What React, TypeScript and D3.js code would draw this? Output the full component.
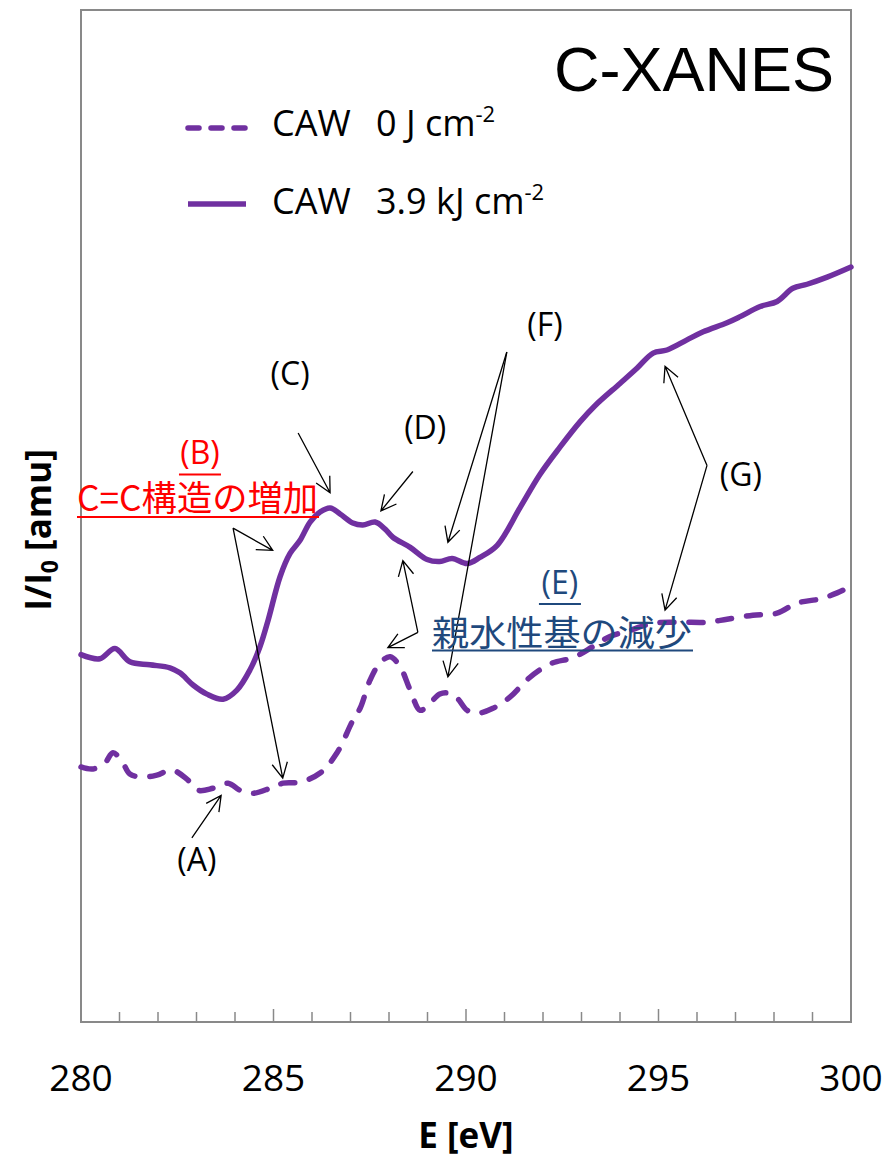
import React from "react";
import * as d3 from "d3";

// Photon energy [eV] and normalised absorption I/I0 [a.u.] for both samples
const energyIrradiated = [
  280.0, 280.49, 280.88, 281.27, 281.79, 282.31, 282.57, 282.91, 283.27, 283.69,
  284.05, 284.39, 284.65, 284.86, 285.17, 285.43, 285.69, 285.95, 286.21, 286.47,
  286.73, 287.06, 287.32, 287.64, 287.9, 288.1, 288.55, 288.99, 289.32, 289.64,
  290.03, 290.36, 290.81, 291.4, 291.92, 292.44, 292.96, 293.35, 294.0, 294.44,
  294.86, 295.22, 295.74, 296.16, 296.78, 297.12, 297.64, 298.08, 298.49, 298.86,
  299.38, 300.0,
];
const intensityIrradiated = [
  36.3, 35.9, 36.9, 35.6, 35.3, 35.0, 34.5, 33.3, 32.4, 31.9,
  32.8, 34.8, 37.1, 39.7, 44.0, 46.3, 47.6, 49.4, 50.4, 50.8,
  50.2, 49.3, 49.1, 49.4, 48.7, 47.9, 46.9, 45.7, 45.5, 45.8,
  45.3, 45.9, 47.1, 50.8, 54.1, 56.8, 59.3, 60.9, 63.1, 64.6,
  66.1, 66.4, 67.4, 68.2, 69.1, 69.7, 70.7, 71.2, 72.5, 72.9,
  73.6, 74.6,
];

const energyUntreated = [
  280.0, 280.31, 280.62, 280.83, 281.06, 281.27, 281.61, 281.97, 282.36, 282.75,
  283.04, 283.43, 283.82, 284.13, 284.47, 284.91, 285.25, 285.69, 286.21, 286.65,
  287.06, 287.25, 287.51, 287.77, 288.03, 288.29, 288.55, 288.81, 289.06, 289.32,
  289.53, 289.77, 290.03, 290.29, 290.7, 291.14, 291.58, 291.92, 292.26, 292.78,
  293.3, 293.74, 294.18, 294.86, 295.56, 296.26, 296.78, 297.45, 298.08, 298.6,
  299.19, 299.64, 299.92,
];
const intensityUntreated = [
  25.2, 25.0, 25.6, 26.6, 25.8, 24.5, 24.2, 24.4, 24.9, 24.0,
  22.9, 23.1, 23.6, 22.9, 22.6, 23.1, 23.6, 23.7, 24.6, 26.6,
  29.8, 31.0, 33.8, 35.5, 36.1, 35.1, 32.8, 30.8, 31.5, 32.4,
  32.5, 32.0, 30.8, 30.5, 31.0, 32.1, 33.8, 34.8, 35.5, 36.0,
  37.1, 38.1, 38.6, 39.4, 39.5, 39.5, 39.8, 40.2, 40.4, 41.4,
  41.8, 42.4, 42.9,
];

const energyTicks = [280, 285, 290, 295, 300];
const energyMinorTicks = d3.range(281, 300);

// Annotation arrows in data units: [E from, I from, E to, I to]
const arrowA = [[282.88, 18.2, 283.64, 22.4]];
const arrowB = [
  [283.95, 48.8, 284.98, 46.6],
  [283.95, 48.8, 285.24, 24.1],
];
const arrowC = [[285.64, 58.2, 286.47, 52.3]];
const arrowD = [[288.62, 54.4, 287.79, 50.5]];
const arrowE = [
  [288.75, 38.5, 288.36, 45.6],
  [288.75, 38.5, 287.97, 37.0],
];
const arrowF = [
  [291.06, 66.2, 289.53, 47.4],
  [291.06, 66.2, 289.53, 34.1],
];
const arrowG = [
  [296.26, 55.0, 295.17, 64.8],
  [296.26, 55.0, 295.17, 40.7],
];

// Plain peak labels: [text, E, I]
const peakLabels: [string, number, number][] = [
  ["(A)", 283.01, 14.9],
  ["(C)", 285.43, 62.9],
  ["(D)", 288.94, 57.6],
  ["(F)", 292.05, 67.8],
  ["(G)", 297.14, 53.0],
];

const PURPLE = "#7030A0";
const FRAME = "#898989";
const RED = "#FF0000";
const NAVY = "#1F497D";

const left = 81;
const right = 851;
const top = 10;
const bottom = 1022;

const x = d3.scaleLinear().domain([280, 300]).range([left, right]);
const y = d3.scaleLinear().domain([0, 100]).range([bottom, top]);

const line = d3
  .line<[number, number]>()
  .x((d) => x(d[0]))
  .y((d) => y(d[1]))
  .curve(d3.curveCatmullRom.alpha(0.5));

function zip(a: number[], b: number[]): [number, number][] {
  return a.map((v, i) => [v, b[i]]);
}

function arrowPath(seg: number[]) {
  const x1 = x(seg[0]);
  const y1 = y(seg[1]);
  const x2 = x(seg[2]);
  const y2 = y(seg[3]);
  const ang = Math.atan2(y1 - y2, x1 - x2);
  const len = 17;
  const spread = (27 * Math.PI) / 180;
  const bx1 = x2 + len * Math.cos(ang + spread);
  const by1 = y2 + len * Math.sin(ang + spread);
  const bx2 = x2 + len * Math.cos(ang - spread);
  const by2 = y2 + len * Math.sin(ang - spread);
  return `M${x1},${y1}L${x2},${y2}M${bx1},${by1}L${x2},${y2}L${bx2},${by2}`;
}

const LATIN = "'Open Sans', 'Noto Sans', sans-serif";
const CJK = "'Noto Sans CJK JP', 'Noto Sans', sans-serif";

export default function App() {
  const allArrows = [...arrowA, ...arrowB, ...arrowC, ...arrowD, ...arrowE, ...arrowF, ...arrowG];
  return (
    <svg
      width={887}
      height={1157}
      viewBox="0 0 887 1157"
      style={{ position: "absolute", left: 0, top: 0, display: "block", background: "#fff" }}
    >
      <rect x={0} y={0} width={887} height={1157} fill="#fff" />
      {/* plot frame */}
      <rect
        x={left}
        y={top}
        width={right - left}
        height={bottom - top}
        fill="none"
        stroke={FRAME}
        strokeWidth={2}
      />
      {/* inward ticks on the energy axis */}
      {energyMinorTicks.map((t) => (
        <line
          key={"m" + t}
          x1={x(t)}
          x2={x(t)}
          y1={bottom}
          y2={bottom - (t % 5 === 0 ? 13 : 10)}
          stroke={FRAME}
          strokeWidth={1.5}
        />
      ))}
      {energyTicks.map((t) => (
        <text
          key={"t" + t}
          x={x(t)}
          y={1091}
          textAnchor="middle"
          fontFamily={LATIN}
          fontSize={37}
          fill="#000"
        >
          {t}
        </text>
      ))}
      <text
        x={x(290)}
        y={1148}
        textAnchor="middle"
        fontFamily={LATIN}
        fontWeight="bold"
        fontSize={35}
        fill="#000"
      >
        E [eV]
      </text>
      <text
        transform={`translate(51,${(top + bottom) / 2 + 14}) rotate(-90)`}
        textAnchor="middle"
        fontFamily={LATIN}
        fontWeight="bold"
        fontSize={35}
        fill="#000"
      >
        I/I
        <tspan fontSize={23} dy={7}>
          0
        </tspan>
        <tspan dy={-7}> [amu]</tspan>
      </text>

      {/* spectra */}
      <path
        d={line(zip(energyUntreated, intensityUntreated)) || ""}
        fill="none"
        stroke={PURPLE}
        strokeWidth={5.5}
        strokeDasharray="14 15"
        strokeLinecap="round"
        strokeLinejoin="round"
      />
      <path
        d={line(zip(energyIrradiated, intensityIrradiated)) || ""}
        fill="none"
        stroke={PURPLE}
        strokeWidth={5.5}
        strokeLinecap="round"
        strokeLinejoin="round"
      />

      {/* title */}
      <text x={834} y={91} textAnchor="end" fontFamily="'Liberation Sans', Arial, sans-serif" fontSize={63} fill="#000">
        C-XANES
      </text>

      {/* legend */}
      <line x1={188} x2={246} y1={128} y2={128} stroke={PURPLE} strokeWidth={5.5} strokeDasharray="11 12" strokeLinecap="round" />
      <text x={272} y={136} fontFamily={LATIN} fontSize={36} fill="#000">
        CAW
      </text>
      <text x={376} y={136} fontFamily={LATIN} fontSize={36} fill="#000">
        0 J cm
        <tspan fontSize={22} dy={-14}>
          -2
        </tspan>
      </text>
      <line x1={188} x2={246} y1={204} y2={204} stroke={PURPLE} strokeWidth={5.5} />
      <text x={272} y={214} fontFamily={LATIN} fontSize={36} fill="#000">
        CAW
      </text>
      <text x={376} y={214} fontFamily={LATIN} fontSize={36} fill="#000">
        3.9 kJ cm
        <tspan fontSize={22} dy={-14}>
          -2
        </tspan>
      </text>

      {/* annotation arrows */}
      {allArrows.map((s, i) => (
        <path key={"a" + i} d={arrowPath(s)} fill="none" stroke="#000" strokeWidth={1.3} />
      ))}
      {peakLabels.map(([t, e, v]) => (
        <text key={t} x={x(e)} y={y(v)} textAnchor="middle" fontFamily={LATIN} fontSize={32} fill="#000">
          {t}
        </text>
      ))}

      {/* (B) C=C increase */}
      <text x={x(283.09)} y={y(55.1)} textAnchor="middle" fontFamily={LATIN} fontSize={32} fill={RED}>
        (B)
      </text>
      <line x1={x(283.09) - 21} x2={x(283.09) + 21} y1={y(54.1)} y2={y(54.1)} stroke={RED} strokeWidth={2} />
      <text x={77} y={y(50.5)} textLength={241} lengthAdjust="spacingAndGlyphs" fontFamily={CJK} fontSize={35} fill={RED}>
        C=C構造の増加
      </text>
      <line x1={77} x2={319} y1={y(49.9)} y2={y(49.9)} stroke={RED} strokeWidth={2} />

      {/* (E) hydrophilic group decrease */}
      <text x={x(292.44)} y={y(42.3)} textAnchor="middle" fontFamily={LATIN} fontSize={32} fill={NAVY}>
        (E)
      </text>
      <line x1={x(292.44) - 21} x2={x(292.44) + 21} y1={y(41.3)} y2={y(41.3)} stroke={NAVY} strokeWidth={2} />
      <text x={432} y={y(37.2)} textLength={260} lengthAdjust="spacingAndGlyphs" fontFamily={CJK} fontSize={35} fill={NAVY}>
        親水性基の減少
      </text>
      <line x1={432} x2={693} y1={y(36.7)} y2={y(36.7)} stroke={NAVY} strokeWidth={2} />
    </svg>
  );
}
